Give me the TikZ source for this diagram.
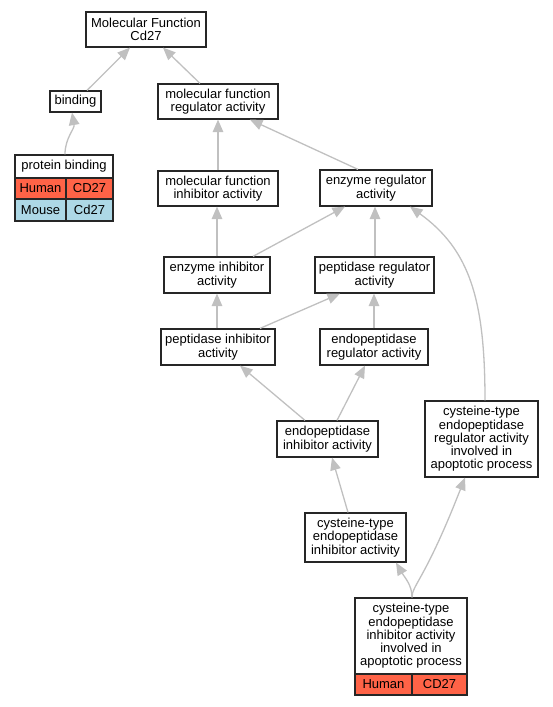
\documentclass[tikz,border=0pt]{standalone}
\usepackage{fontspec}
\setmainfont{Liberation Sans}
\usetikzlibrary{arrows.meta}
\definecolor{edgegray}{HTML}{C0C0C0}
\definecolor{human}{HTML}{FF6347}
\definecolor{mouse}{HTML}{ADD8E6}
\tikzset{
  box/.style={draw=black!85, line width=1.2pt, inner sep=0pt, align=center,
    font=\fontsize{13}{13.3}\selectfont, fill=white},
  cell/.style={box},
  edge/.style={draw=edgegray, line width=1.3pt, -{Triangle[length=12.5pt,width=10.5pt]}}
}
\begin{document}
\begin{tikzpicture}[x=1pt,y=-1pt]
\useasboundingbox (0,0) rectangle (553,707);
% nodes
\node[box, minimum width=120, minimum height=35] (mf) at (146,29.5) {Molecular Function\\Cd27};
\node[box, minimum width=51, minimum height=21] (bind) at (75.5,101.5) {binding};
\node[box, minimum width=120, minimum height=35] (mfra) at (218,101.5) {molecular function\\regulator activity};
\node[box, minimum width=98, minimum height=23] (pbh) at (64,166.5) {protein binding};
\node[cell, fill=human, minimum width=51, minimum height=21] (pbh1) at (40.5,188.5) {Human};
\node[cell, fill=human, minimum width=47, minimum height=21] (pbh2) at (89.5,188.5) {CD27};
\node[cell, fill=mouse, minimum width=51, minimum height=22] (pbm1) at (40.5,210) {Mouse};
\node[cell, fill=mouse, minimum width=47, minimum height=22] (pbm2) at (89.5,210) {Cd27};
\node[box, minimum width=120, minimum height=35] (mfia) at (218,188.5) {molecular function\\inhibitor activity};
\node[box, minimum width=112, minimum height=36] (era) at (376,188) {enzyme regulator\\activity};
\node[box, minimum width=106, minimum height=36] (eia) at (217,275) {enzyme inhibitor\\activity};
\node[box, minimum width=119, minimum height=36] (pra) at (374.5,275) {peptidase regulator\\activity};
\node[box, minimum width=114, minimum height=36] (pia) at (218,347) {peptidase inhibitor\\activity};
\node[box, minimum width=108, minimum height=36] (epra) at (374,347) {endopeptidase\\regulator activity};
\node[box, minimum width=101, minimum height=36] (epia) at (327.5,439) {endopeptidase\\inhibitor activity};
\node[box, minimum width=113, minimum height=76] (cra) at (481.5,439) {cysteine-type\\endopeptidase\\regulator activity\\involved in\\apoptotic process};
\node[box, minimum width=101, minimum height=49] (cia) at (355.5,537.5) {cysteine-type\\endopeptidase\\inhibitor activity};
\node[box, minimum width=112, minimum height=76] (bt) at (411,636) {cysteine-type\\endopeptidase\\inhibitor activity\\involved in\\apoptotic process};
\node[cell, fill=human, minimum width=57, minimum height=21] (bt1) at (383.5,684.5) {Human};
\node[cell, fill=human, minimum width=55, minimum height=21] (bt2) at (439.5,684.5) {CD27};
% edges
\draw[edge] ([xshift=11.5]bind.north) -- ([xshift=-16]mf.south);
\draw[edge] ([xshift=-18]mfra.north) -- ([xshift=17]mf.south);
\draw[edge] ([xshift=1]pbh.north) to[out=90,in=-80] ([xshift=-3.5]bind.south);
\draw[edge] (mfia.north) -- (mfra.south);
\draw[edge] ([xshift=-18]era.north) -- ([xshift=32]mfra.south);
\draw[edge] (eia.north) -- ([xshift=-1]mfia.south);
\draw[edge] ([xshift=36]eia.north) -- ([xshift=-31]era.south);
\draw[edge] ([xshift=0.5]pra.north) -- ([xshift=-1]era.south);
\draw[edge] ([xshift=3.5]cra.north) .. controls (485,300) and (470,250) .. ([xshift=34]era.south);
\draw[edge] ([xshift=-1]pia.north) -- (eia.south);
\draw[edge] ([xshift=42]pia.north) -- ([xshift=-34.5]pra.south);
\draw[edge] (epra.north) -- ([xshift=-0.5]pra.south);
\draw[edge] ([xshift=-22.5]epia.north) -- ([xshift=22]pia.south);
\draw[edge] ([xshift=9.5]epia.north) -- ([xshift=-9]epra.south);
\draw[edge] ([xshift=-7.5]cia.north) -- ([xshift=4.5]epia.south);
\draw[edge] ([xshift=1]bt.north) .. controls (412,585) and (405,578) .. ([xshift=40.5]cia.south);
\draw[edge] ([xshift=1]bt.north) .. controls (412,585) and (425,580) .. ([xshift=-16.5]cra.south);
\end{tikzpicture}
\end{document}
